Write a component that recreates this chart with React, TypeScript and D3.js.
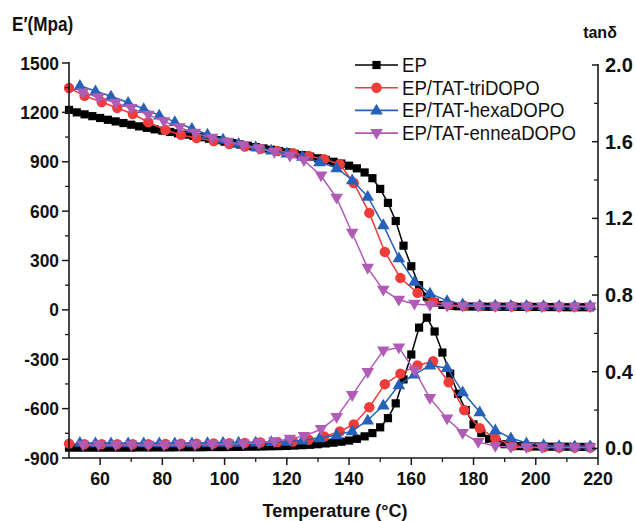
import React, { useEffect } from "react";
import * as d3 from "d3";

const W = 636;
const H = 521;

const X_TICKS = [60, 80, 100, 120, 140, 160, 180, 200, 220];
const X_MINOR = [70, 90, 110, 130, 150, 170, 190, 210];
const E_TICKS = [1500, 1200, 900, 600, 300, 0, -300, -600, -900];
const E_MINOR = [1350, 1050, 750, 450, 150, -150, -450, -750];
const TAN_TICKS = [2.0, 1.6, 1.2, 0.8, 0.4, 0.0];
const TAN_MINOR = [1.8, 1.4, 1.0, 0.6, 0.2];

const SERIES_NAMES = ["EP", "EP/TAT-triDOPO", "EP/TAT-hexaDOPO", "EP/TAT-enneaDOPO"];
const SERIES_COLORS = ["#000000", "#f03b3b", "#2561b8", "#b05cb6"];
const SERIES_SYMBOLS = ["square", "circle", "triangle", "triangleDown"];

// EP
const EP_T = [
  50, 52.5, 55, 57.5, 60, 62.5, 65, 67.5, 70, 72.5, 75, 77.5, 80, 82.5, 85, 87.5, 90, 92.5, 95, 97.5, 100,
  102.5, 105, 107.5, 110, 112.5, 115, 117.5, 120, 122.5, 125, 127.5, 130, 132.5, 135, 137.5, 140, 142.5, 145, 147.5, 150,
  152.5, 155, 157.5, 160, 162.5, 165, 167.5, 170, 172.5, 175, 177.5, 180, 182.5, 185, 187.5, 190, 192.5, 195, 197.5, 200,
  202.5, 205, 207.5, 210, 212.5, 215, 217.5,
];
const EP_E = [
  1215, 1200, 1188, 1177, 1166, 1155, 1145, 1135, 1125, 1115, 1106, 1097, 1089, 1081, 1073, 1065, 1057, 1049, 1040, 1031, 1022,
  1013, 1005, 997, 989, 981, 973, 965, 957, 948, 940, 931, 921, 911, 900, 889, 876, 860, 835, 800, 735,
  650, 540, 390, 265, 150, 80, 45, 30, 25, 22, 21, 20, 20, 19, 19, 19, 18, 18, 18, 18,
  17, 17, 17, 16, 16, 16, 16,
];
const EP_TAN = [
  0.004, 0.004, 0.004, 0.004, 0.004, 0.004, 0.004, 0.004, 0.004, 0.005, 0.005, 0.005, 0.005, 0.005, 0.006, 0.006, 0.006, 0.006, 0.007, 0.007, 0.007,
  0.008, 0.008, 0.009, 0.009, 0.01, 0.011, 0.012, 0.013, 0.015, 0.017, 0.019, 0.022, 0.026, 0.03, 0.035, 0.041, 0.05, 0.063, 0.08, 0.11,
  0.158, 0.235, 0.36, 0.49, 0.63, 0.682, 0.61, 0.5, 0.39, 0.285, 0.2, 0.125, 0.08, 0.05, 0.032, 0.022, 0.016, 0.012, 0.011, 0.01,
  0.01, 0.009, 0.009, 0.009, 0.008, 0.008, 0.008,
];

// EP/TAT-triDOPO
const TRI_T = [
  50, 55, 60.5, 65.5, 70.5, 75.5, 81, 86, 91, 96.5, 101.5, 106.5, 111.5, 117, 122, 127, 132, 137,
  141.5, 146.5, 151.5, 156.5, 162, 167, 172, 177, 182, 187, 192.5, 197.5, 202.5, 207.5, 212.5, 217.5,
];
const TRI_E = [
  1348, 1300, 1263, 1227, 1190, 1140, 1093, 1063, 1044, 1026, 1008, 992, 978, 965, 952, 935, 915, 885,
  771, 589, 352, 194, 103, 49, 30, 25, 23, 22, 22, 21, 21, 20, 20, 20,
];
const TRI_TAN = [
  0.025, 0.022, 0.022, 0.022, 0.022, 0.022, 0.023, 0.024, 0.025, 0.026, 0.027, 0.029, 0.031, 0.033, 0.036, 0.045, 0.062, 0.088,
  0.125, 0.215, 0.335, 0.39, 0.433, 0.455, 0.345, 0.2, 0.106, 0.054, 0.014, 0.008, 0.006, 0.005, 0.005, 0.005,
];

// EP/TAT-hexaDOPO
const HEXA_T = [
  53.5, 58.5, 63.5, 69, 74, 79, 84, 89.5, 94.5, 99.5, 104.5, 110, 115, 120, 125, 130.5, 136,
  141, 146, 151, 156, 161, 166, 171.5, 176.5, 182, 187, 192, 197, 202.5, 207.5, 212.5, 217.5,
];
const HEXA_E = [
  1362, 1330, 1298, 1260, 1222, 1182, 1142, 1102, 1066, 1036, 1010, 990, 970, 952, 932, 898, 862,
  789, 688, 516, 315, 172, 100, 55, 35, 28, 27, 26, 26, 25, 25, 24, 24,
];
const HEXA_TAN = [
  0.03, 0.028, 0.028, 0.028, 0.028, 0.028, 0.028, 0.028, 0.029, 0.03, 0.031, 0.032, 0.034, 0.036, 0.042, 0.054, 0.07,
  0.09, 0.147, 0.225, 0.33, 0.386, 0.433, 0.42, 0.294, 0.19, 0.095, 0.054, 0.028, 0.018, 0.013, 0.012, 0.012,
];

// EP/TAT-enneaDOPO
const ENNEA_T = [
  54.5, 59.5, 65, 70, 75.5, 80.5, 85.5, 90.5, 96, 101, 106, 111, 116, 121, 125.5, 131, 136,
  141, 146, 151, 156, 161, 166, 171.5, 176.5, 181.5, 187, 192, 197, 202, 207.5, 212.5, 217.5,
];
const ENNEA_E = [
  1320, 1290, 1258, 1225, 1185, 1145, 1108, 1075, 1045, 1020, 1000, 980, 958, 935, 908, 815, 680,
  467, 254, 121, 61, 36, 28, 24, 22, 22, 21, 21, 20, 20, 20, 19, 19,
];
const ENNEA_TAN = [
  0.018, 0.018, 0.018, 0.018, 0.018, 0.018, 0.019, 0.02, 0.021, 0.023, 0.025, 0.029, 0.036, 0.05, 0.064, 0.1, 0.163,
  0.277, 0.397, 0.51, 0.526, 0.407, 0.262, 0.155, 0.08, 0.033, 0.012, 0.006, 0.005, 0.005, 0.005, 0.005, 0.005,
];

const SERIES_T = [EP_T, TRI_T, HEXA_T, ENNEA_T];
const SERIES_E = [EP_E, TRI_E, HEXA_E, ENNEA_E];
const SERIES_TAN = [EP_TAN, TRI_TAN, HEXA_TAN, ENNEA_TAN];

const FONT = "'Liberation Sans', Arial, Helvetica, sans-serif";
const AXIS_COLOR = "#1a1a1a";

function symbolPath(kind: string): string | null {
  if (kind === "triangle") return "M0,-6.6L6.3,4.2L-6.3,4.2Z";
  if (kind === "triangleDown") return "M0,6.6L6.3,-4.2L-6.3,-4.2Z";
  return null;
}

function Marker({ kind, x, y, color }: { kind: string; x: number; y: number; color: string }) {
  if (kind === "square") return <rect x={x - 4.1} y={y - 4.1} width={8.2} height={8.2} fill={color} />;
  if (kind === "circle") return <circle cx={x} cy={y} r={5.2} fill={color} />;
  return <path d={symbolPath(kind) || ""} transform={`translate(${x},${y})`} fill={color} />;
}

export default function App() {
  useEffect(() => {
    document.body.style.margin = "0";
  }, []);

  const x = d3.scaleLinear().domain([50, 220]).range([69, 598]);
  const yE = d3.scaleLinear().domain([-900, 1500]).range([458, 63]);
  const yT = d3.scaleLinear().domain([-0.05, 2.0]).range([458, 65]);

  const lineE = (ts: number[], vs: number[]) =>
    d3.line<number>().x((_, i) => x(ts[i])).y((v) => yE(v))(vs) || "";
  const lineT = (ts: number[], vs: number[]) =>
    d3.line<number>().x((_, i) => x(ts[i])).y((v) => yT(v))(vs) || "";

  const x0 = x(50);
  const x1 = x(220);
  const yBottom = yE(-900);

  return (
    <svg width={W} height={H} style={{ position: "absolute", left: 0, top: 0, background: "#fff" }} fontFamily={FONT}>
      <rect x={0} y={0} width={W} height={H} fill="#fff" />

      {/* E' curves */}
      {SERIES_NAMES.map((name, si) => (
        <g key={"e" + name}>
          <path d={lineE(SERIES_T[si], SERIES_E[si])} fill="none" stroke={SERIES_COLORS[si]} strokeWidth={1.5} />
          {SERIES_E[si].map((v, i) => (
            <Marker key={i} kind={SERIES_SYMBOLS[si]} x={x(SERIES_T[si][i])} y={yE(v)} color={SERIES_COLORS[si]} />
          ))}
        </g>
      ))}

      {/* tan delta curves */}
      {SERIES_NAMES.map((name, si) => (
        <g key={"t" + name}>
          <path d={lineT(SERIES_T[si], SERIES_TAN[si])} fill="none" stroke={SERIES_COLORS[si]} strokeWidth={1.5} />
          {SERIES_TAN[si].map((v, i) => (
            <Marker key={i} kind={SERIES_SYMBOLS[si]} x={x(SERIES_T[si][i])} y={yT(v)} color={SERIES_COLORS[si]} />
          ))}
        </g>
      ))}

      {/* Left axis */}
      <line x1={x0} x2={x0} y1={yE(1500) - 1} y2={yBottom} stroke={AXIS_COLOR} strokeWidth={1.6} />
      {E_TICKS.map((t) => (
        <g key={"et" + t}>
          <line x1={x0 - 7} x2={x0} y1={yE(t)} y2={yE(t)} stroke={AXIS_COLOR} strokeWidth={1.5} />
          <text
            transform={`translate(${x0 - 10},${yE(t) + 6.5}) scale(0.94,1)`}
            textAnchor="end"
            fontSize={18.5}
            fontWeight="bold"
            fill="#111"
          >
            {t}
          </text>
        </g>
      ))}
      {E_MINOR.map((t) => (
        <line key={"em" + t} x1={x0 - 4} x2={x0} y1={yE(t)} y2={yE(t)} stroke={AXIS_COLOR} strokeWidth={1.3} />
      ))}

      {/* Bottom axis */}
      <line x1={x0} x2={x1} y1={yBottom} y2={yBottom} stroke={AXIS_COLOR} strokeWidth={1.6} />
      {X_TICKS.map((t) => (
        <g key={"xt" + t}>
          <line x1={x(t)} x2={x(t)} y1={yBottom} y2={yBottom + 7} stroke={AXIS_COLOR} strokeWidth={1.5} />
          <text
            transform={`translate(${x(t)},${yBottom + 27}) scale(0.96,1)`}
            textAnchor="middle"
            fontSize={18.5}
            fontWeight="bold"
            fill="#111"
          >
            {t}
          </text>
        </g>
      ))}
      {X_MINOR.map((t) => (
        <line key={"xm" + t} x1={x(t)} x2={x(t)} y1={yBottom} y2={yBottom + 4} stroke={AXIS_COLOR} strokeWidth={1.3} />
      ))}

      {/* Right axis */}
      <line x1={x1} x2={x1} y1={yT(2.0) - 1} y2={yBottom} stroke={AXIS_COLOR} strokeWidth={1.6} />
      {TAN_TICKS.map((t) => (
        <g key={"tt" + t}>
          <line x1={x1 - 6} x2={x1} y1={yT(t)} y2={yT(t)} stroke={AXIS_COLOR} strokeWidth={1.5} />
          <text x={x1 + 7} y={yT(t) + 7} textAnchor="start" fontSize={20} fontWeight="bold" fill="#111">
            {t.toFixed(1)}
          </text>
        </g>
      ))}
      {TAN_MINOR.map((t) => (
        <line key={"tm" + t} x1={x1 - 4} x2={x1} y1={yT(t)} y2={yT(t)} stroke={AXIS_COLOR} strokeWidth={1.3} />
      ))}

      {/* Axis titles */}
      <text transform="translate(12,31) scale(0.88,1)" fontSize={19.5} fontWeight="bold" fill="#111">
        E′(Mpa)
      </text>
      <text x={600} y={37.5} textAnchor="middle" fontSize={16} fontWeight="bold" fill="#111">
        tanδ
      </text>
      <text x={335} y={516.5} textAnchor="middle" fontSize={18} fontWeight="bold" fill="#111">
        Temperature (°C)
      </text>

      {/* Legend */}
      {SERIES_NAMES.map((name, si) => {
        const ly = 65 + si * 22.7;
        return (
          <g key={"lg" + name}>
            <line x1={355} x2={398} y1={ly} y2={ly} stroke={SERIES_COLORS[si]} strokeWidth={1.6} />
            <Marker kind={SERIES_SYMBOLS[si]} x={376.5} y={ly} color={SERIES_COLORS[si]} />
            <text transform={`translate(402,${ly + 7}) scale(0.93,1)`} fontSize={20} fill="#111">
              {name}
            </text>
          </g>
        );
      })}
    </svg>
  );
}
